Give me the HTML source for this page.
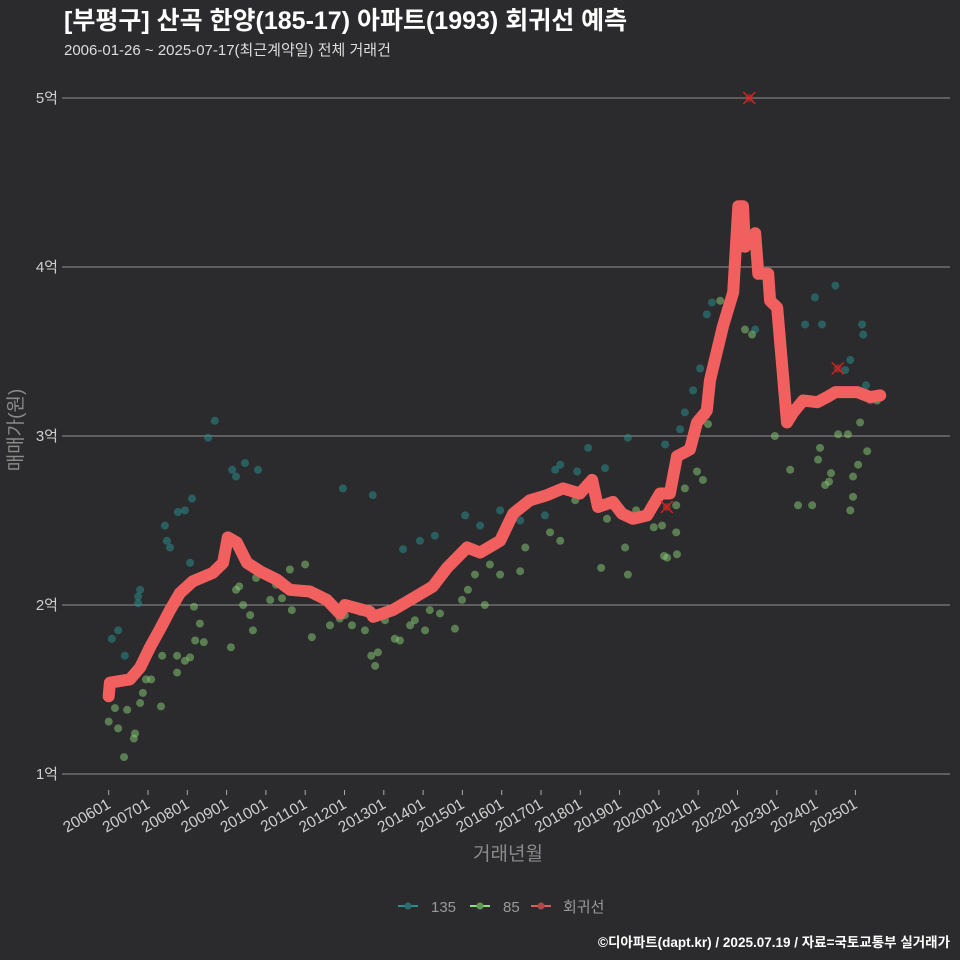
<!DOCTYPE html>
<html><head><meta charset="utf-8">
<style>
html,body{margin:0;padding:0;background:#2b2b2d;}
body{width:960px;height:960px;overflow:hidden;font-family:"Liberation Sans","Noto Sans CJK KR",sans-serif;}
</style></head>
<body>
<svg id="chart" width="960" height="960" xmlns="http://www.w3.org/2000/svg" style="display:block">
<rect width="960" height="960" fill="#2b2b2d"/>
<text x="64" y="29" fill="#ffffff" font-size="25" font-weight="bold" font-family="Liberation Sans, Noto Sans CJK KR, sans-serif">[부평구] 산곡 한양(185-17) 아파트(1993) 회귀선 예측</text>
<text x="64" y="55" fill="#dddddd" font-size="15" font-family="Liberation Sans, Noto Sans CJK KR, sans-serif">2006-01-26 ~ 2025-07-17(최근계약일) 전체 거래건</text>
<g id="grid"></g>
<g id="yticks"></g>
<g id="xticks"></g>
<g id="pts"></g>
<g id="line"></g>
<g id="outl"></g>
<text transform="translate(22,430) rotate(-90)" text-anchor="middle" fill="#8a8a8a" font-size="19" font-family="Liberation Sans, Noto Sans CJK KR, sans-serif">매매가(원)</text>
<text x="508" y="860" text-anchor="middle" fill="#8a8a8a" font-size="19" font-family="Liberation Sans, Noto Sans CJK KR, sans-serif">거래년월</text>
<g font-family="Liberation Sans, Noto Sans CJK KR, sans-serif" font-size="15" fill="#999">
 <g><line x1="398" y1="906" x2="418" y2="906" stroke="#2a8c8c" stroke-width="2"/><circle cx="408" cy="906" r="3.5" fill="#2a6e6e"/><text x="431" y="912">135</text></g>
 <g><line x1="470" y1="906" x2="490" y2="906" stroke="#8fe07a" stroke-width="2"/><circle cx="480" cy="906" r="3.5" fill="#5f9a50"/><text x="503" y="912">85</text></g>
 <g><line x1="531" y1="906" x2="551" y2="906" stroke="#e05a5a" stroke-width="2"/><circle cx="541" cy="906" r="3.5" fill="#b04848"/><text x="563" y="912">회귀선</text></g>
</g>
<text x="950" y="947" text-anchor="end" fill="#ffffff" font-size="13.5" font-weight="bold" font-family="Liberation Sans, Noto Sans CJK KR, sans-serif">©디아파트(dapt.kr) / 2025.07.19 / 자료=국토교통부 실거래가</text>
</svg>
<script>
const yTicks=[1,2,3,4,5];
const xTickYears=[2006,2007,2008,2009,2010,2011,2012,2013,2014,2015,2016,2017,2018,2019,2020,2021,2022,2023,2024,2025];
const lineYears=[2006.0,2006.03,2006.54,2006.8,2007.05,2007.31,2007.56,2007.81,2008.14,2008.65,2008.91,2009.03,2009.26,2009.52,2009.85,2010.28,2010.61,2011.12,2011.55,2011.88,2012.01,2012.65,2012.73,2013.23,2013.67,2014.25,2014.61,2015.12,2015.45,2015.96,2016.29,2016.72,2017.15,2017.56,2017.99,2018.3,2018.45,2018.83,2019.06,2019.34,2019.7,2020.03,2020.28,2020.46,2020.79,2020.97,2021.22,2021.3,2021.63,2021.89,2022.02,2022.14,2022.19,2022.45,2022.53,2022.78,2022.83,2023.01,2023.26,2023.42,2023.67,2024.03,2024.28,2024.49,2025.05,2025.38,2025.63];
const lineValues=[1.46,1.54,1.56,1.63,1.75,1.86,1.97,2.07,2.14,2.19,2.25,2.4,2.37,2.25,2.2,2.15,2.09,2.08,2.03,1.95,2.0,1.96,1.93,1.97,2.03,2.11,2.22,2.34,2.31,2.38,2.54,2.62,2.65,2.69,2.66,2.74,2.58,2.61,2.54,2.51,2.53,2.66,2.66,2.88,2.92,3.08,3.15,3.33,3.65,3.85,4.36,4.36,4.12,4.2,3.96,3.96,3.8,3.76,3.08,3.14,3.21,3.2,3.23,3.26,3.26,3.23,3.24];
const s135Years=[2006.08,2006.24,2006.41,2006.75,2006.8,2006.75,2007.43,2007.48,2007.56,2007.76,2007.94,2008.07,2008.12,2008.53,2008.7,2009.14,2009.24,2009.47,2009.8,2011.96,2012.72,2013.49,2013.92,2014.3,2015.07,2015.45,2015.96,2016.47,2017.1,2017.36,2017.49,2017.92,2018.2,2018.63,2019.21,2020.16,2020.54,2020.66,2020.87,2021.05,2021.22,2021.35,2021.56,2022.45,2023.72,2023.97,2024.15,2024.49,2024.74,2024.87,2025.17,2025.2,2025.27,2025.38];
const s135Values=[1.8,1.85,1.7,2.05,2.09,2.01,2.47,2.38,2.34,2.55,2.56,2.25,2.63,2.99,3.09,2.8,2.76,2.84,2.8,2.69,2.65,2.33,2.38,2.41,2.53,2.47,2.56,2.5,2.53,2.8,2.83,2.79,2.93,2.81,2.99,2.95,3.04,3.14,3.27,3.4,3.72,3.79,3.64,3.63,3.66,3.82,3.66,3.89,3.39,3.45,3.66,3.6,3.3,3.21];
const s85Years=[2006.0,2006.16,2006.24,2006.39,2006.47,2006.64,2006.67,2006.8,2006.87,2006.95,2007.08,2007.33,2007.36,2007.74,2007.74,2007.94,2008.07,2008.17,2008.2,2008.32,2008.42,2009.11,2009.24,2009.32,2009.42,2009.6,2009.67,2009.75,2010.11,2010.26,2010.41,2010.61,2010.66,2011.0,2011.17,2011.63,2011.88,2012.01,2012.19,2012.4,2012.52,2012.68,2012.78,2012.85,2013.03,2013.28,2013.41,2013.67,2013.79,2014.05,2014.17,2014.43,2014.81,2014.99,2015.14,2015.32,2015.57,2015.7,2015.96,2016.47,2016.6,2017.23,2017.49,2017.87,2018.53,2018.68,2019.01,2019.14,2019.21,2019.42,2019.87,2020.08,2020.13,2020.21,2020.44,2020.44,2020.46,2020.66,2020.97,2021.12,2021.2,2021.25,2021.56,2022.19,2022.37,2022.95,2023.34,2023.54,2023.9,2024.05,2024.1,2024.23,2024.33,2024.38,2024.56,2024.81,2024.87,2024.94,2024.94,2025.07,2025.12,2025.3,2025.55];
const s85Values=[1.31,1.39,1.27,1.1,1.38,1.21,1.24,1.42,1.48,1.56,1.56,1.4,1.7,1.7,1.6,1.67,1.69,1.99,1.79,1.89,1.78,1.75,2.09,2.11,2.0,1.94,1.85,2.16,2.03,2.12,2.04,2.21,1.97,2.24,1.81,1.88,1.92,1.94,1.88,1.96,1.85,1.7,1.64,1.72,1.91,1.8,1.79,1.88,1.91,1.85,1.97,1.95,1.86,2.03,2.09,2.18,2.0,2.24,2.18,2.2,2.34,2.43,2.38,2.62,2.22,2.51,2.56,2.34,2.18,2.56,2.46,2.47,2.29,2.28,2.59,2.43,2.3,2.69,2.79,2.74,3.12,3.07,3.8,3.63,3.6,3.0,2.8,2.59,2.59,2.86,2.93,2.71,2.73,2.78,3.01,3.01,2.56,2.76,2.64,2.83,3.08,2.91,3.21];
const outlierYears=[2022.3,2020.2,2024.55];
const outlierValues=[5.0,2.58,3.4];

const NS='http://www.w3.org/2000/svg';
function xs(y){return 108.7+(y-2006)*39.3;}
function ys(v){return 774-(v-1)*169;}
function mk(tag,attrs,parent){const e=document.createElementNS(NS,tag);for(const k in attrs)e.setAttribute(k,attrs[k]);parent.appendChild(e);return e;}
const grid=document.getElementById('grid'),yt=document.getElementById('yticks'),xt=document.getElementById('xticks');
yTicks.forEach(v=>{
  const l=mk('line',{x1:62,x2:950,y1:ys(v),y2:ys(v),stroke:'#909090','stroke-width':1},grid);
  
  
  const t=mk('text',{x:58,y:ys(v)+5,'text-anchor':'end',fill:'#cfcfcf','font-size':15},yt);
  
  
  t.textContent=v+'억';
});
xTickYears.forEach(y=>{
  const x=xs(y);
  const tk=mk('line',{x1:x,x2:x,y1:790,y2:795,stroke:'#aaa','stroke-width':1},xt);
  
  
  const t=mk('text',{x:x+3,y:807,'text-anchor':'end',fill:'#cfcfcf','font-size':15.5,transform:'rotate(-30 '+(x+3)+' 807)'},xt);
  
  
  t.textContent=y+'01';
});
const pts=document.getElementById('pts');
s135Years.forEach((y,i)=>{
  const c=mk('circle',{cx:xs(y),cy:ys(s135Values[i]),r:4,fill:'#2a8a8a','fill-opacity':0.55},pts);
  
  
});
s85Years.forEach((y,i)=>{
  const c=mk('circle',{cx:xs(y),cy:ys(s85Values[i]),r:4,fill:'#8ccf78','fill-opacity':0.5},pts);
  
  
});
const d=lineYears.map((y,i)=>(i?'L':'M')+xs(y).toFixed(1)+' '+ys(lineValues[i]).toFixed(1)).join(' ');
const p=mk('path',{d:d,fill:'none',stroke:'#f25f5f','stroke-width':12,'stroke-linejoin':'round','stroke-linecap':'round'},document.getElementById('line'));


const ol=document.getElementById('outl');
outlierYears.forEach((y,i)=>{
  const x=xs(y),v=ys(outlierValues[i]);
  const g=mk('g',{},ol);
  
  
  mk('circle',{cx:x,cy:v,r:4,fill:'#b03030','fill-opacity':0.6},g);
  mk('path',{d:`M${x-6} ${v-6}L${x+6} ${v+6}M${x+6} ${v-6}L${x-6} ${v+6}`,stroke:'#e02020','stroke-width':1.3},g);
});
</script>
</body></html>
